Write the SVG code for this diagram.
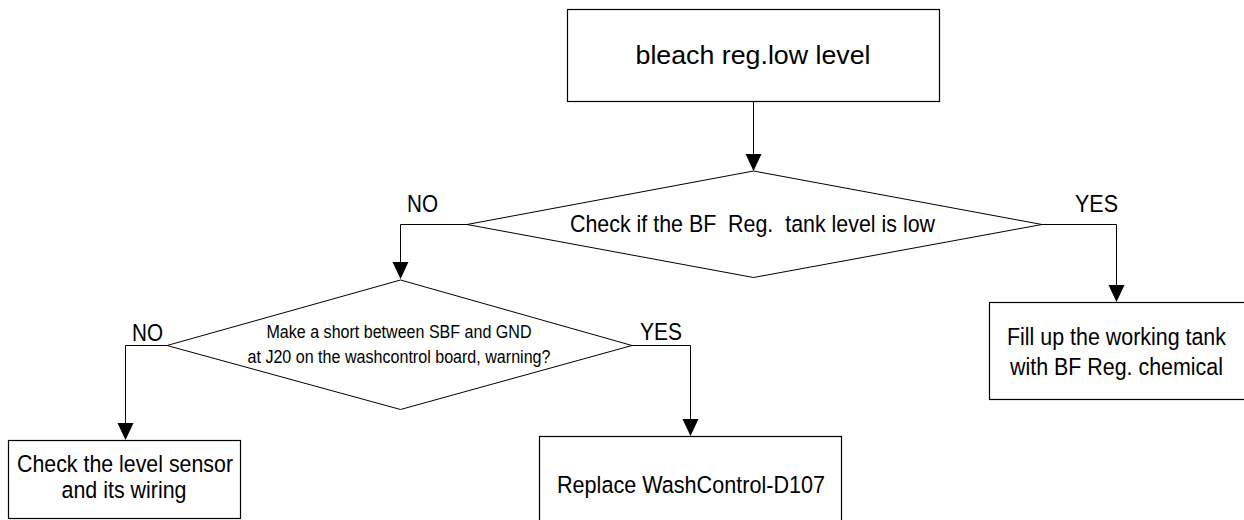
<svg xmlns="http://www.w3.org/2000/svg" width="1244" height="520" viewBox="0 0 1244 520">
<defs>
<style>
.box{fill:#fff;stroke:#000;stroke-width:1.2}
.dia{fill:#fff;stroke:#000;stroke-width:1}
.ln{fill:none;stroke:#000;stroke-width:1}
text{font-family:"Liberation Sans",Arial,sans-serif;fill:#000;text-anchor:middle}
.big{font-size:26px}
.med{font-size:24.5px}
.med2{font-size:23px}
.sm{font-size:17.5px}
.lbl{font-size:23px}
</style>
</defs>
<rect width="1244" height="520" fill="#fff"/>
<g id="connectors">
<path class="ln" d="M753.5,101.5 V154"/>
<path d="M745.5,154 L761.5,154 L753.5,171 Z" fill="#000"/>
<path class="ln" d="M467,224.5 H400.5 V262"/>
<path d="M392.5,262 L408.5,262 L400.5,279 Z" fill="#000"/>
<path class="ln" d="M1042,224.5 H1116.5 V285"/>
<path d="M1108.5,285 L1124.5,285 L1116.5,302 Z" fill="#000"/>
<path class="ln" d="M167,345.5 H125.5 V423"/>
<path d="M117.5,423 L133.5,423 L125.5,440 Z" fill="#000"/>
<path class="ln" d="M632,345.5 H690.5 V419"/>
<path d="M682.5,419 L698.5,419 L690.5,436 Z" fill="#000"/>
</g>
<g id="start">
<rect class="box" x="567.5" y="9.5" width="372" height="92"/>
<text class="big" x="753" y="64" textLength="235" lengthAdjust="spacingAndGlyphs">bleach reg.low level</text>
</g>
<g id="decision1">
<polygon class="dia" points="753.5,171 1042,224.5 753.5,277.5 467,224.5"/>
<text class="med" x="752.5" y="232" textLength="365" lengthAdjust="spacingAndGlyphs" xml:space="preserve">Check if the BF  Reg.  tank level is low</text>
</g>
<g id="label-no1"><text class="lbl" x="422.5" y="212" textLength="31" lengthAdjust="spacingAndGlyphs">NO</text></g>
<g id="label-yes1"><text class="lbl" x="1096.5" y="212" textLength="43" lengthAdjust="spacingAndGlyphs">YES</text></g>
<g id="fillup">
<rect class="box" x="989.5" y="302.5" width="256" height="97"/>
<text class="med2" x="1116.5" y="345" textLength="219" lengthAdjust="spacingAndGlyphs">Fill up the working tank</text>
<text class="med2" x="1116.5" y="375" textLength="213" lengthAdjust="spacingAndGlyphs">with BF Reg. chemical</text>
</g>
<g id="decision2">
<polygon class="dia" points="400.5,280 632,345.5 400.5,409.5 167,345.5"/>
<text class="sm" x="399" y="338" textLength="265" lengthAdjust="spacingAndGlyphs">Make a short between SBF and GND</text>
<text class="sm" x="399" y="363" textLength="303" lengthAdjust="spacingAndGlyphs">at J20 on the washcontrol board, warning?</text>
</g>
<g id="label-no2"><text class="lbl" x="147.5" y="341" textLength="31" lengthAdjust="spacingAndGlyphs">NO</text></g>
<g id="label-yes2"><text class="lbl" x="661" y="340" textLength="42" lengthAdjust="spacingAndGlyphs">YES</text></g>
<g id="check-sensor">
<rect class="box" x="8.5" y="440.5" width="232" height="78"/>
<text class="med" x="125" y="472" textLength="216" lengthAdjust="spacingAndGlyphs">Check the level sensor</text>
<text class="med" x="124" y="498" textLength="125" lengthAdjust="spacingAndGlyphs">and its wiring</text>
</g>
<g id="replace">
<rect class="box" x="539.5" y="436.5" width="302" height="90"/>
<text class="med" x="691" y="493" textLength="268" lengthAdjust="spacingAndGlyphs">Replace WashControl-D107</text>
</g>
</svg>
